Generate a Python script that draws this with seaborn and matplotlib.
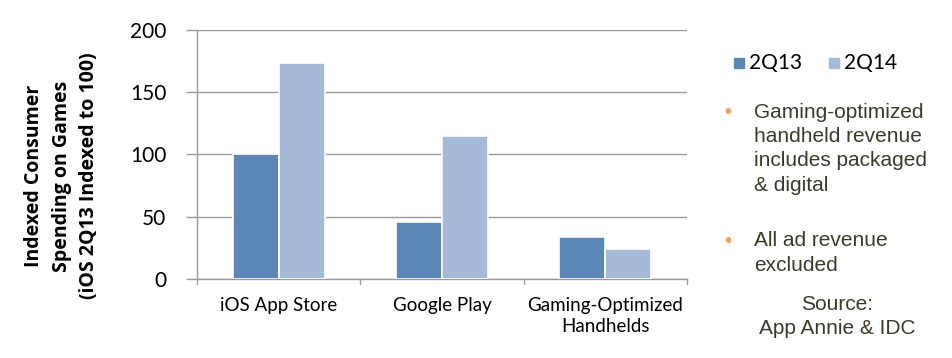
import matplotlib
matplotlib.use("Agg")
import matplotlib.pyplot as plt
import seaborn as sns
import pandas as pd
from matplotlib.patches import Rectangle

categories = ["iOS App Store", "Google Play", "Gaming-Optimized\nHandhelds"]
series_names = ["2Q13", "2Q14"]
values_2q13 = [100, 46, 34]
values_2q14 = [173, 115, 24]
y_ticks = [0, 50, 100, 150, 200]

df = pd.DataFrame({
    "category": categories * 2,
    "period": [series_names[0]] * 3 + [series_names[1]] * 3,
    "value": values_2q13 + values_2q14,
})

sns.set_theme(style="white")
plt.rcParams['font.family'] = ['Lato', 'DejaVu Sans']

colors = ["#5B87B4", "#A6B9D6"]
fig = plt.figure(figsize=(9.53, 3.58), dpi=100)
ax = fig.add_axes([197/953, 1-279/358, (687-197)/953, (279-29.5)/358])

sns.barplot(data=df, x="category", y="value", hue="period", palette=colors,
            saturation=1, width=0.565, edgecolor="white", linewidth=1.2, ax=ax,
            legend=False, zorder=3)

ax.set_ylim(0, 200)
ax.set_xlim(-0.5, 2.5)
ax.set_yticks(y_ticks)
ax.set_yticklabels([str(t) for t in y_ticks], fontsize=15, color="black")
ax.yaxis.grid(True, color="#9a9a9a", linewidth=1.0, zorder=0)
ax.set_axisbelow(True)
ax.set_xlabel("")
ax.set_ylabel("")
ax.set_xticks([0, 1, 2])
ax.set_xticklabels(categories, fontsize=13.5, color="black", linespacing=1.25)
ax.tick_params(axis="x", length=0, pad=13)
ax.tick_params(axis="y", length=8, color="#9a9a9a", width=1.0, pad=14, direction="out", left=True)
for b in [-0.5, 0.5, 1.5, 2.5]:
    ax.plot([b, b], [0, -4], color="#9a9a9a", lw=1.0, clip_on=False, transform=ax.transData)
for s in ["top", "right"]:
    ax.spines[s].set_visible(False)
for s in ["left", "bottom"]:
    ax.spines[s].set_color("#9a9a9a")
    ax.spines[s].set_linewidth(1.0)

fig.text(62/953, 1-176/358,
         "Indexed Consumer\nSpending on Games\n(iOS 2Q13 Indexed to 100)",
         rotation=90, ha="center", va="center", fontsize=14, fontweight="bold",
         linespacing=1.5, color="black", family=["Open Sans", "DejaVu Sans"])

# legend
for i, (name, col) in enumerate(zip(series_names, colors)):
    x0 = [734, 829][i]
    fig.patches.append(Rectangle((x0/953, 1-68/358), 10/953, 10/358,
                                 transform=fig.transFigure, color=col))
    fig.text((x0+15)/953, 1-63/358, name, fontsize=15, va="center", ha="left",
             color="black", family=["Lato", "DejaVu Sans"])

note_color = "#3d3a2c"
bullet_color = "#F0A060"
notes = [
    (112, ["Gaming-optimized", "handheld revenue", "includes packaged", "& digital"]),
    (241, ["All ad revenue", "excluded"]),
]
for y0, lines in notes:
    fig.text(728/953, 1-y0/358, "•", fontsize=11, color=bullet_color, va="center", ha="center")
    for j, ln in enumerate(lines):
        fig.text(754/953, 1-(y0 + j*24.5)/358, ln, fontsize=15, color=note_color,
                 va="center", ha="left", family=["Liberation Sans", "DejaVu Sans"])

fig.text(837/953, 1-305/358, "Source:", fontsize=15, color=note_color, ha="center", va="center",
         family=["Liberation Sans", "DejaVu Sans"])
fig.text(837/953, 1-329/358, "App Annie & IDC", fontsize=15, color=note_color, ha="center", va="center",
         family=["Liberation Sans", "DejaVu Sans"])

fig.savefig("out.png", dpi=100)
